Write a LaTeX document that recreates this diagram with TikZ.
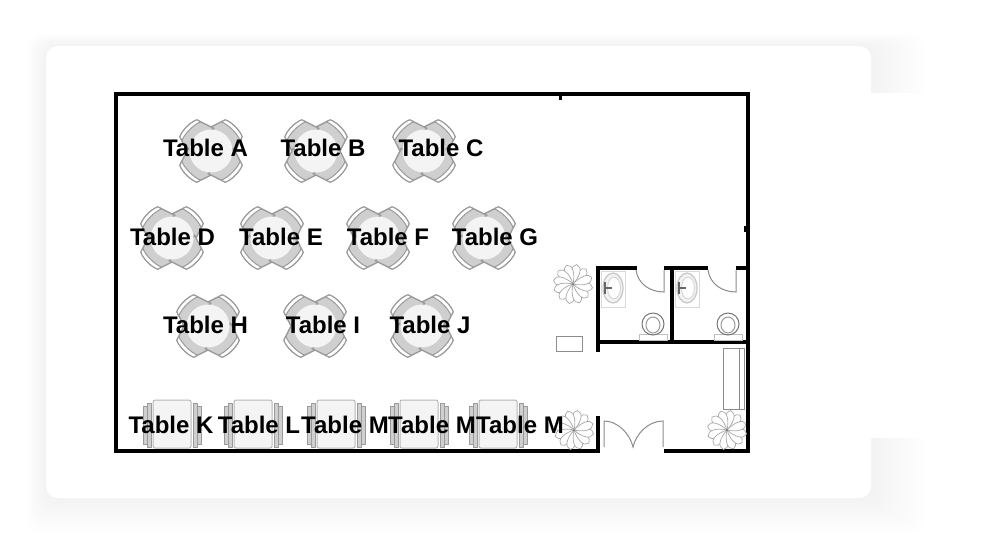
\documentclass[tikz,border=0pt]{standalone}
\usepackage{fontspec}
\setmainfont{Liberation Sans}
\usepackage{tikz}
\definecolor{seatgray}{HTML}{CFCFCF}
\definecolor{edgegray}{HTML}{9A9A9A}
\definecolor{topgray}{HTML}{F4F4F4}
\definecolor{linegray}{HTML}{A8A8A8}
\tikzset{
 pics/roundtable/.style={code={
  \foreach \a in {45,135,225,315} {
   \draw[chair, rotate=\a] (14,-18) -- (32,-12) .. controls (35,-6) and (35,6) .. (32,12) -- (14,18) -- cycle;
   \draw[chair, fill=white, line width=1pt, rotate=\a] (28,-13.3) -- (32,-12) .. controls (35,-6) and (35,6) .. (32,12) -- (28,13.3) .. controls (31,6) and (31,-6) .. cycle;
  }
  \fill[topgray] (0,0) circle (21.5);
 }},
 pics/longtable/.style={code={
  \draw[chair, line width=1pt] (-29,-18) rectangle (-25,20);
  \draw[chair, line width=1pt] (-25,-21) rectangle (-21,23);
  \draw[chair, line width=1pt] (29,-18) rectangle (25,20);
  \draw[chair, line width=1pt] (25,-21) rectangle (21,23);
  \draw[edgegray!70, fill=topgray, line width=1pt, rounded corners=2] (-19,-24) rectangle (19,24);
 }},
 pics/plant/.style={code={
  \foreach \a in {0,30,...,330} {
   \draw[fixture, fill=white, line width=0.7pt, rotate=\a] (0,0) .. controls (2,-9) and (8,-18) .. (13,-15) .. controls (17,-10) and (10,-3) .. cycle;
  }
  \fill[black!55] (0,0) circle (1);
 }},
 pics/sink/.style={code={
  \draw[fixture, black!15, line width=1pt] (0,0) rectangle (24,36);
  \draw[fixture, black!22, fill=black!5, line width=1.2pt] (12,17) ellipse (10 and 15);
  \draw[fixture, black!15, fill=white, line width=1pt] (13,17) ellipse (6.5 and 11);
  \draw[fixture, black!60, line width=1.2pt] (4,11) -- (4,23) (4,17) -- (11,17);
 }},
 pics/toilet/.style={code={
  \draw[fixture, black!25, line width=1pt] (-14,9) rectangle (14,15);
  \draw[fixture, black!55, line width=1pt] (0,-1) ellipse (11 and 11);
  \draw[fixture, black!40, line width=1pt] (0,0) ellipse (7 and 8);
 }},
}
\begin{document}
\begin{tikzpicture}[x=1pt,y=-1pt]
 	\tikzstyle{wall}=[line width=4pt, black, line cap=butt]
 	\tikzstyle{chair}=[draw=edgegray, fill=seatgray, line width=1.4pt, line join=round]
 	\tikzstyle{fixture}=[draw=linegray, line width=0.8pt]
 	\tikzstyle{door}=[draw=black!45, line width=1pt]
 	\tikzstyle{tablename}=[font=\fontsize{24}{26}\selectfont\bfseries, black, inner sep=0pt]
 	\useasboundingbox (0,0) rectangle (1000,550);
 	% soft shadow of the card
 	\foreach \s in {1,2,...,12}
 		\fill[black, opacity=0.0035, rounded corners=16] (46-\s*1.6,46-\s) rectangle (871+\s*4.5,498+\s*3);
 	\fill[white] (871,93) rectangle (1000,438);
 	\fill[white, rounded corners=12] (46,46) rectangle (871,498);
 	% tables
 	\foreach \x/\y in {211/151,316/151,424/151,172/238,272/238,378/238,484/238,208/326,315/326,422/326}
 		\pic at (\x,\y) {roundtable};
 	\foreach \x in {172,253,336,419,498}
 		\pic at (\x,424) {longtable};
 	% outer walls
 	\draw[wall] (600,451) -- (116,451) -- (116,94) -- (748,94) -- (748,453);
 	\draw[wall] (664,451) -- (750,451);
 	\draw[wall] (598,416) -- (598,453);
 	\draw[line width=3pt] (560,94) -- (560,100);
 	\draw[line width=3pt] (745,226) -- (745,232);
 	% washrooms
 	\draw[wall] (598,352) -- (598,266) (596,268) -- (637,268) (664,268) -- (708,268) (736,268) -- (748,268);
 	\draw[wall] (672,268) -- (672,342);
 	\draw[wall] (598,342) -- (748,342);
 	% doors
 	\draw[door] (636,270) .. controls (638,284) and (650,292) .. (664,292) -- (664,270);
 	\draw[door] (708,270) .. controls (710,284) and (722,292) .. (736,292) -- (736,270);
 	\draw[door] (604,447) -- (604,421) .. controls (618,421) and (630,434) .. (633,447) .. controls (636,434) and (648,421) .. (663,421) -- (663,447);
 	% fixtures
 	\pic at (601,271) {sink};
 	\pic at (675,271) {sink};
 	\pic at (653,325) {toilet};
 	\pic at (728,325) {toilet};
 	\pic at (573,284) {plant};
 	\pic at (574,430) {plant};
 	\pic at (727,430) {plant};
 	\draw[fixture, draw=black!45] (556,336) rectangle (582,351);
 	\draw[fixture, draw=black!45] (723,348) rectangle (744,409);
 	\draw[fixture, draw=black!45] (739,348) -- (739,409);
 	% names
 	\node[tablename] (tableA) at (205.5,148) {Table A};
 	\node[tablename] (tableB) at (323,148) {Table B};
 	\node[tablename] (tableC) at (441,148) {Table C};
 	\node[tablename] (tableD) at (172.5,237) {Table D};
 	\node[tablename] (tableE) at (281,237) {Table E};
 	\node[tablename] (tableF) at (388,237) {Table F};
 	\node[tablename] (tableG) at (495,237) {Table G};
 	\node[tablename] (tableH) at (205.5,325) {Table H};
 	\node[tablename] (tableI) at (323,325) {Table I};
 	\node[tablename] (tableJ) at (430,325) {Table J};
 	\node[tablename] (tableK) at (171,425) {Table K};
 	\node[tablename] (tableL) at (259,425) {Table L};
 	\node[tablename] (tableMa) at (345,425) {Table M};
 	\node[tablename] (tableMb) at (432,425) {Table M};
 	\node[tablename] (tableMc) at (520,425) {Table M};
\end{tikzpicture}
\end{document}
